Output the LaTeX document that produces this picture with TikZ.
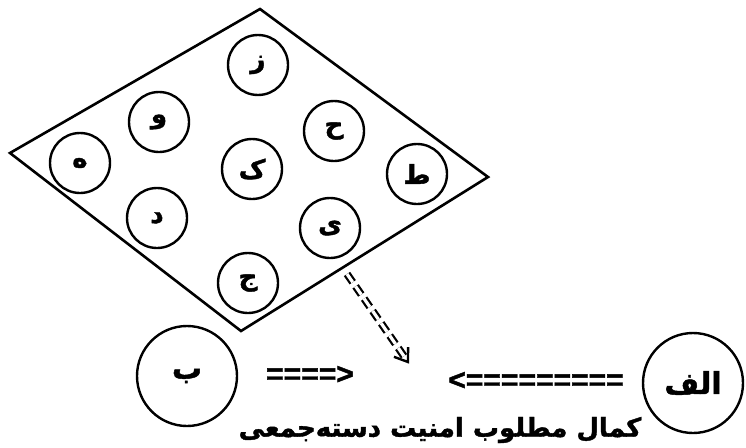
\documentclass[tikz,border=0pt]{standalone}
\usepackage{fontspec}
\usetikzlibrary{calc}
\newfontfamily\arabicfont[Script=Arabic, FakeBold=1.5]{DejaVu Sans Bold}
\newfontfamily\eqfont[FakeBold=1.5]{Liberation Sans Bold}
\TeXXeTstate=1
\begin{document}
\begin{tikzpicture}[x=1pt,y=-1pt,
  letter/.style={circle, draw, line width=2.4pt, minimum size=60pt, inner sep=0pt,
    font=\arabicfont\fontsize{26}{30}\selectfont},
  bigletter/.style={letter, minimum size=100pt,
    font=\arabicfont\fontsize{30}{34}\selectfont},
  eqtext/.style={inner sep=0pt, font=\eqfont\fontsize{30}{34}\selectfont},
  caption/.style={inner sep=0pt, font=\arabicfont\fontsize{26}{32}\selectfont},
  plane/.style={line width=2.6pt, line join=miter},
  flow/.style={double, double distance=3.2pt, line width=2.2pt, dash pattern=on 10pt off 5pt,
    shorten >=4pt},
  flowhead/.style={line width=2.4pt, line join=miter}
]
\useasboundingbox (0,0) rectangle (746,447);
% the plane (diamond)
\coordinate (top) at (260,9);
\coordinate (right) at (488,177);
\coordinate (bottom) at (241,331);
\coordinate (left) at (10,153);
\draw[plane] (top) -- (right) -- (bottom) -- (left) -- cycle;
% small circles
\node[letter] (z) at (258,65) {\beginR ز\endR};
\node[letter] (v) at (159,122) {\beginR و\endR};
\node[letter] (h) at (80,163) {\beginR ه\endR};
\node[letter] (d) at (157,218) {\beginR د\endR};
\node[letter] (k) at (252,169) {\beginR ک\endR};
\node[letter] (hh) at (334,131) {\beginR ح\endR};
\node[letter] (t) at (417,174) {\beginR ط\endR};
\node[letter] (y) at (330,228) {\beginR ی\endR};
\node[letter] (j) at (248,283) {\beginR ج\endR};
% big circles
\node[bigletter] (b) at (187,376) {\beginR ب\endR};
\node[bigletter] (alef) at (693,383) {\beginR الف\endR};
% arrow-like texts
\node[eqtext] (e1) at (310,375) {====>};
\node[eqtext] (e2) at (536,381) {<=========};
% double dashed arrow
\coordinate (s) at (347,274);
\coordinate (e) at (408,362);
\draw[flow] (s) -- (e);
\draw[flowhead] ($(e)!15pt!35:(s)$) -- (e) -- ($(e)!15pt!-35:(s)$);
% caption
\node[caption] (cap) at (440,430) {\beginR کمال مطلوب امنیت دسته‌جمعی\endR};
\end{tikzpicture}
\end{document}
